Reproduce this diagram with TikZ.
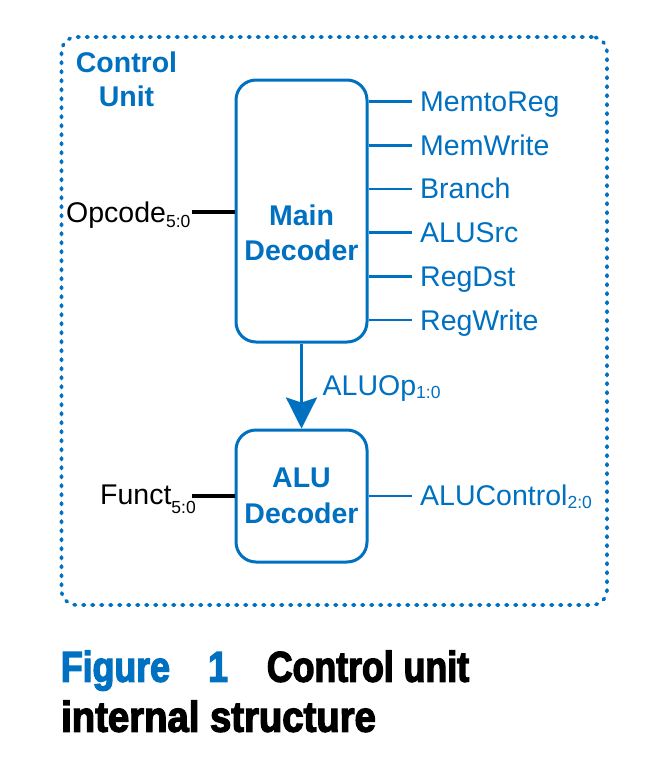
\documentclass[tikz,border=0pt]{standalone}
\usepackage{fontspec}
\setmainfont{Liberation Sans}
\newfontfamily\capfont[FakeStretch=0.83,FakeBold=3]{Liberation Sans Bold}
\newfontfamily\capfontb[FakeStretch=0.89,FakeBold=3]{Liberation Sans Bold}
\usetikzlibrary{arrows.meta}
\definecolor{hblue}{RGB}{0,112,192}
\tikzset{
  blk/.style={draw=hblue, line width=3pt, rounded corners=20pt, inner sep=0pt},
  wire/.style={draw=hblue, line width=2.6pt},
  inwire/.style={draw=black, line width=3.2pt},
  sig/.style={anchor=base west, inner sep=0pt, text=hblue, font=\fontsize{28.5}{34}\selectfont},
  insig/.style={anchor=base west, inner sep=0pt, text=black, font=\fontsize{28.5}{34}\selectfont},
  title/.style={anchor=base, inner sep=0pt, text=hblue, font=\fontsize{28.5}{34}\selectfont\bfseries},
  captext/.style={anchor=base west, inner sep=0pt, font=\fontsize{43}{50}\capfont},
  captextb/.style={anchor=base west, inner sep=0pt, font=\fontsize{43}{50}\capfontb},
  cuframe/.style={draw=hblue, line width=3.6pt, dash pattern=on 1.6pt off 7.4pt, line cap=round, rounded corners=15pt, inner sep=0pt}
}
\newcommand{\sbs}[2]{\raisebox{-#1pt}{\fontsize{17.5}{18}\selectfont #2}}
\begin{document}
\begin{tikzpicture}[x=1pt,y=-1pt]
\useasboundingbox (0,0) rectangle (657,771);
% control unit frame
\node[cuframe, minimum width=545.5pt, minimum height=568pt] (cu) at (334.25,321) {};
\node[title] (cuA) at (126.5,72) {Control};
\node[title] (cuB) at (126.5,106) {Unit};
% main decoder
\node[blk, minimum width=131pt, minimum height=262pt] (main) at (301.5,211) {};
\node[title] (mainA) at (301.5,225) {Main};
\node[title] (mainB) at (301.5,260) {Decoder};
% alu decoder
\node[blk, minimum width=131pt, minimum height=132pt] (alu) at (301.5,496) {};
\node[title] (aluA) at (301.5,487) {ALU};
\node[title] (aluB) at (301.5,523) {Decoder};
% outputs of main decoder
\foreach \i/\t in {0/MemtoReg,1/MemWrite,2/Branch,3/ALUSrc,4/RegDst,5/RegWrite}{
  \coordinate (o\i) at (412,101.5+43.7*\i);
  \draw[wire] (main.east |- o\i) -- (o\i);
  \node[sig] (l\i) at (420,111.5+43.7*\i) {\t};
}
% opcode input
\coordinate (opc) at (192,212);
\draw[inwire] (opc) -- (opc -| main.west);
\node[insig] (opl) at (66,222) {Opcode\sbs{5}{5:0}};
% funct input
\coordinate (fnc) at (192,496);
\draw[inwire] (fnc) -- (fnc -| alu.west);
\node[insig] (fnl) at (100,504.3) {Funct\sbs{9}{5:0}};
% ALUOp
\draw[draw=hblue, line width=3pt, -{Stealth[length=31pt,width=31pt,inset=5pt,fill=hblue]}] (main.south) -- (alu.north);
\node[sig] (aop) at (322.5,395) {ALUOp\sbs{3}{1:0}};
% ALUControl
\coordinate (ac) at (412,496);
\draw[wire] (alu.east |- ac) -- (ac);
\node[sig] (acl) at (420,505) {ALUControl\sbs{3.5}{2:0}};
% caption
\node[captext, text=hblue] (fig) at (60.7,681.7) {Figure};
\node[captext, text=hblue] (fign) at (208,681.7) {1};
\node[captext, text=black] (figt) at (266.7,681.7) {Control unit};
\node[captextb, text=black] (figt2) at (61,731.7) {internal structure};
\end{tikzpicture}
\end{document}
